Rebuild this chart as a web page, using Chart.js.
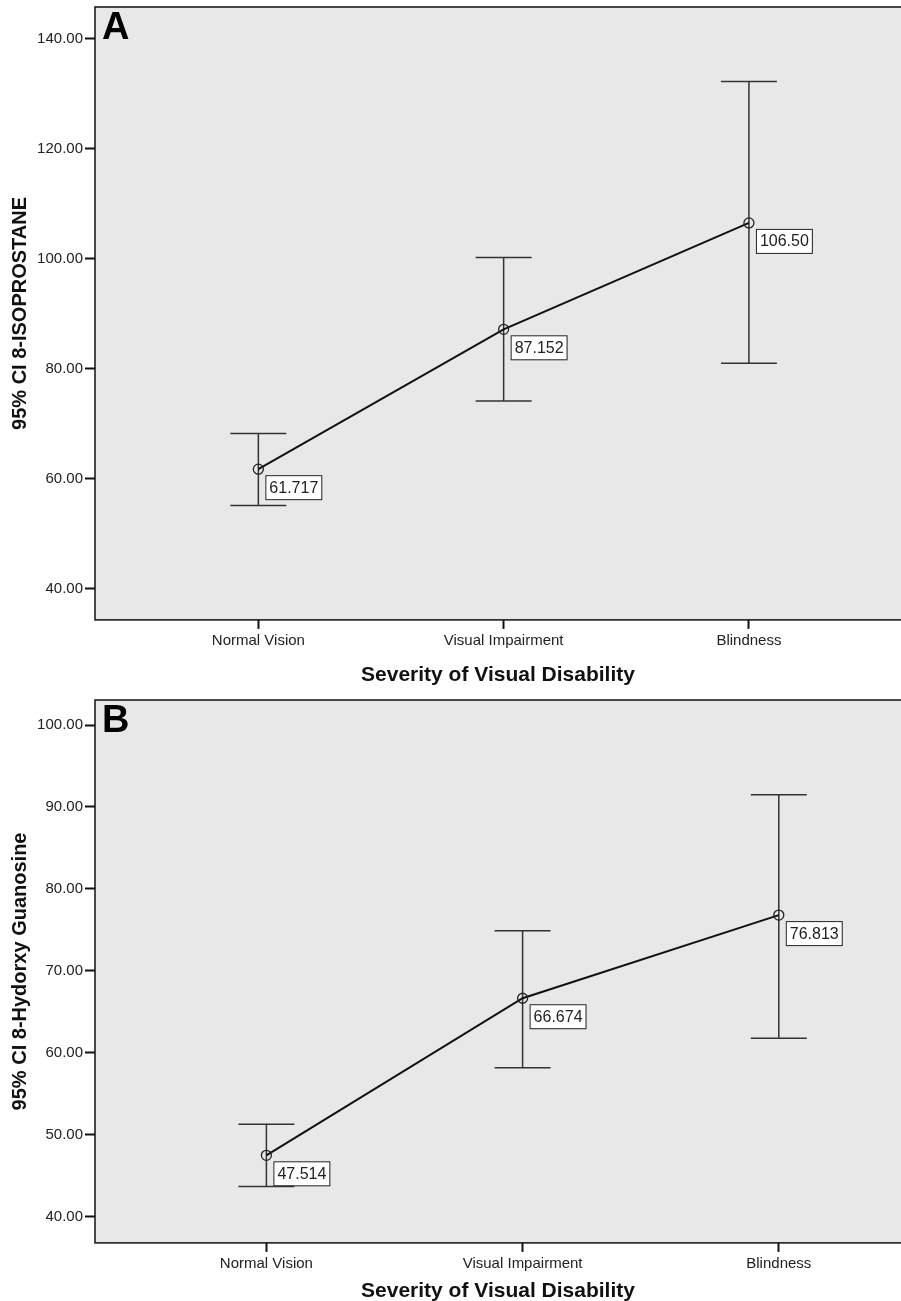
<!DOCTYPE html>
<html>
<head>
<meta charset="utf-8">
<script src="https://cdn.jsdelivr.net/npm/chart.js@4.4.1/dist/chart.umd.min.js"></script>
<style>
  body { margin: 0; background: #fff; overflow: hidden; }
  canvas { position: absolute; left: 0; }
</style>
</head>
<body>
<canvas id="chartA" width="901" height="695" style="top:0"></canvas>
<canvas id="chartB" width="901" height="608" style="top:695px"></canvas>
<script>
const categories = ['Normal Vision', 'Visual Impairment', 'Blindness'];

// panel A - 8-isoprostane, mean with 95% CI
const meansA = [61.717, 87.152, 106.50];
const lowerA = [55.1, 74.1, 81.0];
const upperA = [68.2, 100.2, 132.2];
const yTicksA = [40, 60, 80, 100, 120, 140];

// panel B - 8-hydroxy guanosine
const meansB = [47.514, 66.674, 76.813];
const lowerB = [43.7, 58.2, 61.8];
const upperB = [51.3, 74.9, 91.5];
const yTicksB = [40, 50, 60, 70, 80, 90, 100];

const FONT = '"Liberation Sans", Arial, sans-serif';

// grey plot background + frame
const plotFrame = {
  id: 'plotFrame',
  beforeDraw(chart) {
    const { ctx, chartArea: a } = chart;
    ctx.save();
    ctx.fillStyle = '#e8e8e8';
    ctx.fillRect(a.left, a.top, a.right - a.left, a.bottom - a.top);
    ctx.restore();
  },
  afterDraw(chart) {
    const { ctx, chartArea: a } = chart;
    ctx.save();
    ctx.strokeStyle = '#111';
    ctx.lineWidth = 1.5;
    ctx.strokeRect(a.left, a.top, a.right - a.left + 2, a.bottom - a.top);
    ctx.restore();
  }
};

// vertical CI bars with caps
const errorBars = {
  id: 'errorBars',
  beforeDatasetsDraw(chart, args, opts) {
    const { ctx, scales: { x, y } } = chart;
    ctx.save();
    ctx.strokeStyle = '#333';
    ctx.lineWidth = 1.5;
    opts.lower.forEach((lo, i) => {
      const px = x.getPixelForValue(i);
      const yLo = y.getPixelForValue(lo);
      const yHi = y.getPixelForValue(opts.upper[i]);
      ctx.beginPath();
      ctx.moveTo(px, yLo); ctx.lineTo(px, yHi);
      ctx.moveTo(px - 28, yLo); ctx.lineTo(px + 28, yLo);
      ctx.moveTo(px - 28, yHi); ctx.lineTo(px + 28, yHi);
      ctx.stroke();
    });
    ctx.restore();
  }
};

// boxed mean labels + panel letter
const valueBoxes = {
  id: 'valueBoxes',
  afterDatasetsDraw(chart, args, opts) {
    const { ctx, chartArea: a } = chart;
    const meta = chart.getDatasetMeta(0);
    ctx.save();
    ctx.font = '16px ' + FONT;
    ctx.textBaseline = 'middle';
    meta.data.forEach((pt, i) => {
      const txt = chart.data.datasets[0].data[i].y.toPrecision(5);
      const w = ctx.measureText(txt).width + 7;
      const bx = pt.x + 7, by = pt.y + 6;
      ctx.fillStyle = '#fff';
      ctx.fillRect(bx, by, w, 24);
      ctx.strokeStyle = '#222';
      ctx.lineWidth = 1;
      ctx.strokeRect(bx + 0.5, by + 0.5, w, 24);
      ctx.fillStyle = '#222';
      ctx.fillText(txt, bx + 4, by + 13);
    });
    ctx.fillStyle = '#000';
    ctx.font = 'bold 38px ' + FONT;
    ctx.textBaseline = 'top';
    ctx.fillText(opts.letter, a.left + 7, a.top + 3);
    ctx.restore();
  }
};

function makeChart(id, means, lower, upper, yTicks, yMin, yMax, xMin, xMax, yTitle, letter, pad, titlePad) {
  return new Chart(document.getElementById(id), {
    type: 'line',
    data: {
      datasets: [{
        data: means.map((m, i) => ({ x: i, y: m })),
        borderColor: '#111',
        borderWidth: 2,
        tension: 0,
        pointRadius: 5,
        pointBorderWidth: 1.3,
        pointBorderColor: '#222',
        pointBackgroundColor: 'rgba(0,0,0,0)'
      }]
    },
    options: {
      responsive: false,
      animation: false,
      layout: { padding: pad, autoPadding: false },
      plugins: {
        legend: { display: false },
        tooltip: { enabled: false },
        errorBars: { lower: lower, upper: upper },
        valueBoxes: { letter: letter }
      },
      scales: {
        x: {
          type: 'linear',
          min: xMin,
          max: xMax,
          afterBuildTicks: s => { s.ticks = categories.map((c, i) => ({ value: i })); },
          grid: { drawOnChartArea: false, tickLength: 9, tickWidth: 2, tickColor: '#111' },
          border: { display: false },
          ticks: {
            autoSkip: false, maxRotation: 0, padding: 3, color: '#222',
            font: { family: FONT, size: 15 },
            callback: v => categories[v]
          },
          title: {
            display: true, text: 'Severity of Visual Disability', color: '#111',
            font: { family: FONT, size: 21, weight: 'bold', lineHeight: 1.1 },
            padding: { top: titlePad, bottom: 0 }
          }
        },
        y: {
          type: 'linear',
          min: yMin,
          max: yMax,
          afterBuildTicks: s => { s.ticks = yTicks.map(v => ({ value: v })); },
          afterFit: s => { s.width = 95; s.paddingTop = 0; s.paddingBottom = 0; },
          grid: { drawOnChartArea: false, tickLength: 10, tickWidth: 2, tickColor: '#111' },
          border: { display: false },
          ticks: {
            padding: 2, color: '#222',
            font: { family: FONT, size: 15 },
            callback: v => v.toFixed(2)
          },
          title: {
            display: true, text: yTitle, color: '#111',
            font: { family: FONT, size: 20, weight: 'bold' },
            padding: { top: 8, bottom: 0 }
          }
        }
      }
    },
    plugins: [plotFrame, errorBars, valueBoxes]
  });
}

makeChart('chartA', meansA, lowerA, upperA, yTicksA, 34.31, 145.76, -0.666, 2.62,
  '95% CI 8-ISOPROSTANE', 'A', { top: 7, right: 0, left: 0, bottom: 8 }, 11);
makeChart('chartB', meansB, lowerB, upperB, yTicksB, 36.83, 103.05, -0.669, 2.477,
  '95% CI 8-Hydorxy Guanosine', 'B', { top: 5, right: 0, left: 0, bottom: 0 }, 4);
</script>
</body>
</html>
